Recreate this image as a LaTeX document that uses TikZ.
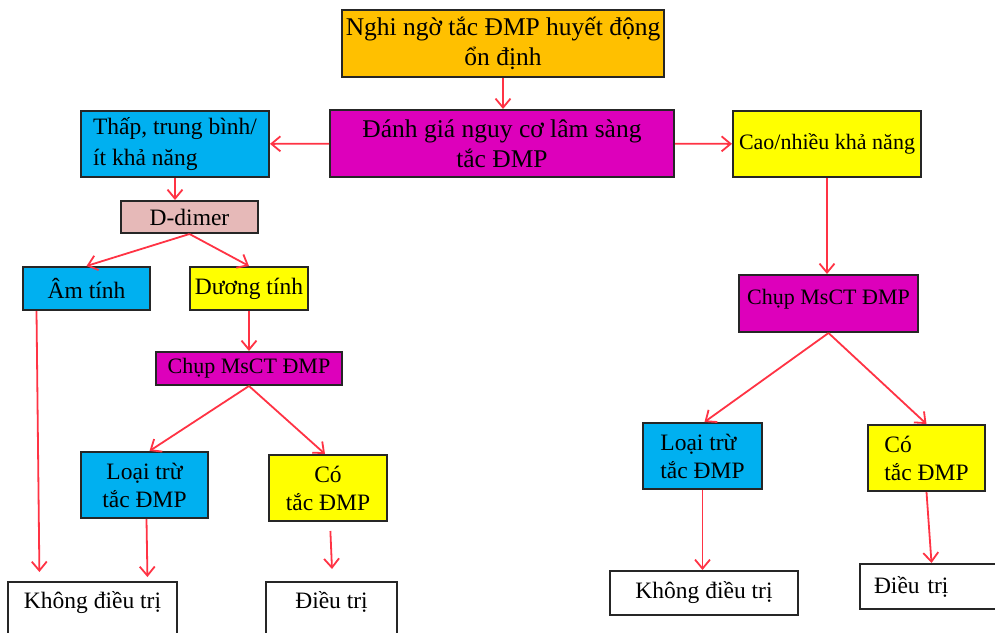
\documentclass[tikz,border=0pt]{standalone}
\usepackage{fontspec}
\setmainfont{Liberation Serif}
\usetikzlibrary{arrows.meta}

\definecolor{cam}{HTML}{FFC000}
\definecolor{tim}{HTML}{DD00BB}
\definecolor{xanh}{HTML}{00B0F0}
\definecolor{vang}{HTML}{FFFF00}
\definecolor{hong}{HTML}{E6B9B8}
\definecolor{do}{HTML}{FF3344}

\begin{document}
\begin{tikzpicture}
  [x=1pt,y=-1pt,
   every node/.style={draw=black!85,line width=2pt,rectangle,inner sep=4pt,
     font=\fontsize{23.5}{28}\selectfont,align=center},
   every edge/.style={draw=do,line width=1.8pt,
     -{Straight Barb[length=9pt,width=15pt,line width=1.8pt]}}]

  \tikzstyle{lon}   = [font=\fontsize{25.5}{30}\selectfont]
  \tikzstyle{nho}   = [font=\fontsize{22}{28}\selectfont]
  \tikzstyle{cam}   = [fill=cam]
  \tikzstyle{tim}   = [fill=tim]
  \tikzstyle{xanh}  = [fill=xanh]
  \tikzstyle{vang}  = [fill=vang]
  \tikzstyle{hong}  = [fill=hong]
  \tikzstyle{trang} = [fill=white]

  \useasboundingbox (0,0) rectangle (995,632);

  % nhanh giua
  \node[cam,lon,minimum width=314pt,minimum height=67pt] (nghi) at (503,43.5)
        {Nghi ngờ tắc ĐMP huyết động\\ổn định};
  \node[tim,lon,minimum width=344pt,minimum height=67pt] (danhgia) at (502,143.5)
        {Đánh giá nguy cơ lâm sàng\\tắc ĐMP};

  % nhanh trai
  \node[xanh,align=left,font=\fontsize{23.5}{31}\selectfont,minimum width=188pt,minimum height=66pt]
        (thap) at (175,144) {Thấp, trung bình/\\ít khả năng};
  \node[hong,minimum width=137pt,minimum height=32pt] (ddimer) at (189.5,217) {D-dimer};
  \node[xanh,minimum width=127pt,minimum height=43pt] (am)    at (86.5,288.5) {Âm tính};
  \node[vang,minimum width=118pt,minimum height=43pt] (duong) at (249,288.5) {Dương tính};
  \node[tim,nho,minimum width=186pt,minimum height=33pt] (chupL) at (249,368.5) {Chụp MsCT ĐMP};
  \node[xanh,minimum width=127pt,minimum height=66pt] (loaiL) at (144.5,485) {Loại trừ\\tắc ĐMP};
  \node[vang,minimum width=118pt,minimum height=66pt] (coL)   at (328,488) {Có\\tắc ĐMP};
  \node[trang,anchor=north,minimum width=169pt,text height=22pt,text depth=50pt]
        (khongL) at (92.5,581) {Không điều trị};
  \node[trang,anchor=north,minimum width=131pt,text height=22pt,text depth=50pt]
        (dieuL)  at (331.5,581) {Điều trị};

  % nhanh phai
  \node[vang,nho,minimum width=188pt,minimum height=66pt] (cao) at (827,144) {Cao/nhiều khả năng};
  \node[tim,nho,minimum width=179pt,minimum height=57pt,text depth=14pt] (chupR) at (828.5,303.5)
        {Chụp MsCT ĐMP};
  \node[xanh,align=left,minimum width=119pt,minimum height=66pt] (loaiR) at (702.5,456)
        {Loại trừ\\tắc ĐMP};
  \node[vang,align=left,minimum width=117pt,minimum height=66pt] (coR)   at (926.5,458)
        {Có\\tắc ĐMP};
  \node[trang,minimum width=188pt,minimum height=44pt] (khongR) at (704,593) {Không điều trị};
  \node[trang,align=left,text width=110pt,minimum width=138pt,minimum height=45pt]
        (dieuR) at (929,586.5) {Điều trị};

  \path (nghi.south) edge (nghi.south |- danhgia.north)
        (danhgia)    edge (thap)
        (danhgia)    edge (cao)
        (thap.south) edge (thap.south |- ddimer.north)
        (ddimer.south) edge (am.north)
        (ddimer.south) edge (duong.north)
        ([xshift=-50pt]am.south) edge [shorten >=9pt] ([xshift=-53pt]khongL.north)
        (duong)      edge (chupL)
        (chupL.south) edge ([xshift=5pt]loaiL.north)
        (chupL.south) edge ([xshift=-3pt]coL.north)
        ([xshift=2pt]loaiL.south) edge [shorten >=4pt] ([xshift=55pt]khongL.north)
        ([xshift=2pt]coL.south) edge [shorten <=9pt, shorten >=12pt] ([xshift=1pt]dieuL.north)
        (cao.south)  edge (cao.south |- chupR.north)
        (chupR.south) edge ([xshift=2pt]loaiR.north)
        (chupR.south) edge (coR.north)
        (loaiR.south) edge (loaiR.south |- khongR.north)
        (coR.south)  edge ([xshift=2.5pt]dieuR.north);
\end{tikzpicture}
\end{document}
